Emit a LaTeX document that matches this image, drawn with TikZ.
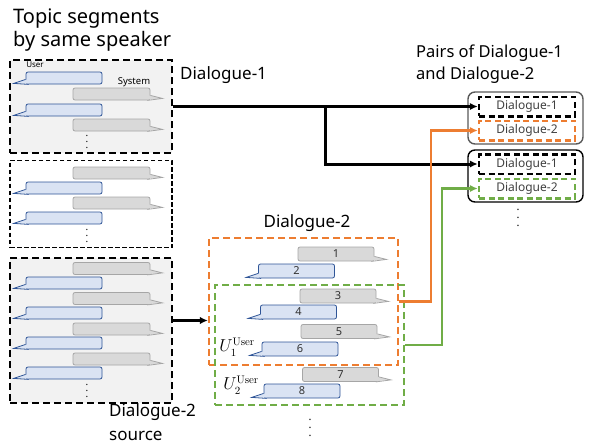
\documentclass[tikz,border=0pt]{standalone}
\usepackage{amsmath}
\usepackage[no-math]{fontspec}
\setmainfont{Noto Sans}
\usepackage{xcolor}
\usetikzlibrary{positioning,arrows.meta,calc}

\definecolor{ublue}{HTML}{2F5597}
\definecolor{ufill}{HTML}{DAE3F3}
\definecolor{sgray}{HTML}{A6A6A6}
\definecolor{sfill}{HTML}{D9D9D9}
\definecolor{boxgray}{HTML}{F2F2F2}
\definecolor{segorange}{HTML}{ED7D31}
\definecolor{seggreen}{HTML}{70AD47}

\begin{document}
\begin{tikzpicture}[
      x=1pt, y=-1pt,
      every node/.style={inner sep=0pt},
      srcbox/.style={draw, line width=2.8pt, dash pattern=on 7pt off 4pt,
                     fill=boxgray, minimum width=162pt},
      plainbox/.style={draw, line width=1.6pt, dash pattern=on 4.5pt off 2.5pt,
                       minimum width=162pt},
      userb/.style={draw=ublue, fill=ufill, line width=0.8pt, rounded corners=2pt,
                    minimum width=76pt, minimum height=12pt},
      sysb/.style={draw=sgray, fill=sfill, line width=0.8pt, rounded corners=2pt,
                   minimum width=77pt, minimum height=12pt},
      numb/.style={minimum height=14pt, font=\fontsize{11}{11}\selectfont, text=black!80},
      vdotsn/.style={align=center, font=\fontsize{10}{6}\selectfont},
      txt/.style={font=\fontsize{17}{24}\selectfont, align=left},
      segbox/.style={draw, line width=2.3pt, dash pattern=on 7pt off 4pt, minimum width=189pt},
      pairbox/.style={draw, line width=1.4pt, rounded corners=7pt,
                      minimum width=115pt, minimum height=52pt},
      dbox/.style={draw, line width=2.5pt, dash pattern=on 6pt off 3.5pt,
                   minimum width=96pt, minimum height=19.5pt,
                   font=\fontsize{12}{12}\selectfont, text=black!75},
      ulab/.style={font=\fontsize{16}{16}\selectfont},
      arr/.style={-{Latex[length=8pt,width=7.5pt]}, line width=3pt},
      carr/.style={-{Latex[length=8pt,width=7.5pt]}, line width=2.5pt},
    ]
    \useasboundingbox (0,0) rectangle (590,442);

    % source segments
    \node[anchor=north west, font=\fontsize{20}{23}\selectfont, align=left] (title) at (13,9)
      {Topic segments\\by same speaker};
    \node[srcbox, minimum height=93pt] (d1src) at (91,106.5) {};
    \node[plainbox, minimum height=87pt] (midsrc) at (91,204) {};
    \node[srcbox, minimum height=145pt] (d2src) at (91,330.5) {};

    \node[font=\fontsize{8}{8}\selectfont] (userlab) at (35,65) {User};
    \node[font=\fontsize{9.5}{9.5}\selectfont] (syslab) at (134,82) {System};
    \node[userb] (a1) at (64,78) {};
    \node[sysb] (a2) at (111.5,94) {};
    \node[userb] (a3) at (64,110) {};
    \node[sysb] (a4) at (111.5,125) {};
    \node[vdotsn] (adots) at (87,142) {.\\.\\.};

    \node[sysb] (b1) at (111.5,173) {};
    \node[userb] (b2) at (64,188) {};
    \node[sysb] (b3) at (111.5,203) {};
    \node[userb] (b4) at (64,218) {};
    \node[vdotsn] (bdots) at (87,236) {.\\.\\.};

    \node[sysb] (c1) at (111.5,268.5) {};
    \node[userb] (c2) at (64,283) {};
    \node[sysb] (c3) at (111.5,298.5) {};
    \node[userb] (c4) at (64,313) {};
    \node[sysb] (c5) at (111.5,329) {};
    \node[userb] (c6) at (64,343) {};
    \node[sysb] (c7) at (111.5,359) {};
    \node[userb] (c8) at (64,373) {};
    \node[vdotsn] (cdots) at (87,391) {.\\.\\.};

    \node[txt, anchor=west] (d1lab) at (180,75) {Dialogue-1};
    \node[txt, anchor=north west] (srclab) at (109,403) {Dialogue-2\\source};

    % Dialogue-2 windows
    \node[txt] (d2lab) at (307,223) {Dialogue-2};
    \node[segbox, draw=segorange, minimum height=127pt] (obox) at (303.5,301.5) {};
    \node[segbox, draw=seggreen, minimum height=120pt] (gbox) at (309.5,345) {};

    \node[sysb, numb, minimum width=76pt] (t1) at (336,254) {1};
    \node[userb, numb] (t2) at (296.5,271) {2};
    \node[sysb, numb, minimum width=76pt] (t3) at (338,296) {3};
    \node[userb, numb] (t4) at (298.5,312) {4};
    \node[sysb, numb, minimum width=76pt] (t5) at (339,331.5) {5};
    \node[userb, numb] (t6) at (300,349) {6};
    \node[sysb, numb, minimum width=76pt] (t7) at (340.5,374.5) {7};
    \node[userb, numb] (t8) at (302,391) {8};
    \node[vdotsn, font=\fontsize{11}{8}\selectfont] (tdots) at (310,428) {.\\.\\.};
    \node[ulab] (u1) at (237,347) {$U_1^{\mathrm{User}}$};
    \node[ulab] (u2) at (241,385) {$U_2^{\mathrm{User}}$};

    % bubble tails
    \foreach \b in {a1,a3,b2,b4,c2,c4,c6,c8,t2,t4,t6,t8} {
      \fill[ufill] ($(\b.south west)+(0.8,-5)$) -- ($(\b.south west)+(-12,-1)$)
        -- ($(\b.south west)+(3,-0.8)$) -- cycle;
      \draw[ublue, line width=0.8pt] ($(\b.south west)+(0,-5)$)
        -- ($(\b.south west)+(-12,-1)$) -- ($(\b.south west)+(3,0)$);
    }
    \foreach \b in {a2,a4,b1,b3,c1,c3,c5,c7,t1,t3,t5,t7} {
      \fill[sfill] ($(\b.south east)+(-0.8,-5)$) -- ($(\b.south east)+(12,-2)$)
        -- ($(\b.south east)+(-3,-0.8)$) -- cycle;
      \draw[sgray, line width=0.8pt] ($(\b.south east)+(0,-5)$)
        -- ($(\b.south east)+(12,-2)$) -- ($(\b.south east)+(-3,0)$);
    }

    % pairs
    \node[txt, font=\fontsize{16.5}{22}\selectfont, anchor=west] (pairlab) at (416,64)
      {Pairs of Dialogue-1\\and Dialogue-2};
    \node[pairbox, draw=black!65] (pair1) at (525.5,118) {};
    \node[pairbox] (pair2) at (525.5,176) {};
    \node[dbox] (D1a) at (527,106.5) {Dialogue-1};
    \node[dbox, draw=segorange] (D2a) at (527,130.5) {Dialogue-2};
    \node[dbox] (D1b) at (527,164) {Dialogue-1};
    \node[dbox, draw=seggreen] (D2b) at (527,188.5) {Dialogue-2};
    \node[vdotsn, font=\fontsize{11}{8}\selectfont] (pdots) at (518,218) {.\\.\\.};

    % connectors
    \coordinate (split) at (325,106.5);
    \coordinate (oturn) at (431,0);
    \coordinate (gturn) at (442,0);
    \draw[arr] (d1src.east) -- (D1a.west);
    \draw[arr] (split) |- (D1b.west);
    \draw[arr] ([yshift=10pt]d2src.east) -- ([yshift=10pt]d2src.east -| obox.west);
    \draw[carr, segorange] (obox.east) -| (oturn |- D2a.west) -- (D2a.west);
    \draw[carr, seggreen] (gbox.east) -| (gturn |- D2b.west) -- (D2b.west);
  \end{tikzpicture}
\end{document}
